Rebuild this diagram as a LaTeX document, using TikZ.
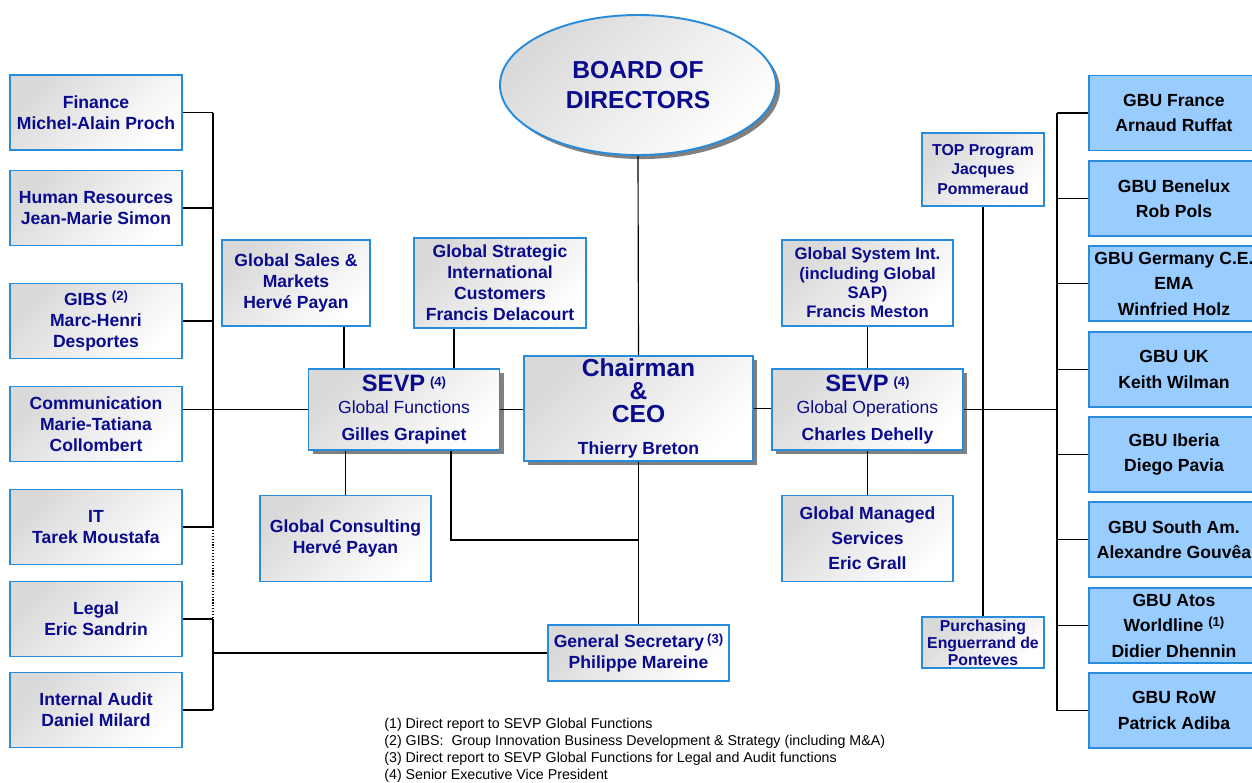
\documentclass[tikz,border=0pt]{standalone}
\usepackage{fontspec}
\setmainfont{Liberation Sans}
\usetikzlibrary{calc, positioning, shapes, shadows}
\definecolor{navy}{RGB}{10,10,140}
\definecolor{boxblue}{RGB}{40,140,220}
\definecolor{gbublue}{RGB}{153,204,255}
\def\unitpx{0.02cm}
\newcommand{\bigtxt}[1]{{\fontsize{14}{16}\selectfont #1}}
\newcommand{\sevptxt}[1]{{\fontsize{13.5}{14}\selectfont #1}}
\newcommand{\supnote}[1]{\raisebox{0.5ex}{\fontsize{7.5}{8}\selectfont #1}}
\tikzstyle{link}=[line width=0.65pt]
\tikzstyle{unit}=[draw=boxblue, line width=1.1pt, top color=black!15, bottom color=white, shading angle=45, text=navy, align=center, inner sep=0pt, font=\bfseries\fontsize{10}{11.9}\selectfont]
\tikzstyle{shadowed}=[drop shadow={shadow xshift=2.3pt, shadow yshift=-2.3pt, opacity=1, fill=black!50}]
\tikzstyle{left unit}=[unit, minimum width=172*\unitpx, minimum height=75*\unitpx]
\tikzstyle{side unit}=[unit, minimum width=171*\unitpx, minimum height=86*\unitpx]
\tikzstyle{sevp}=[unit, shadowed, minimum width=191*\unitpx, minimum height=81*\unitpx, font=\bfseries\fontsize{10}{12.5}\selectfont]
\tikzstyle{small unit}=[unit, minimum width=122*\unitpx, font=\bfseries\fontsize{9}{11}\selectfont]
\tikzstyle{gbu}=[draw=boxblue, line width=1.1pt, fill=gbublue, align=center, inner sep=0pt, minimum width=170*\unitpx, minimum height=75*\unitpx, font=\bfseries\fontsize{10}{14.5}\selectfont]
\tikzstyle{note}=[anchor=north west, align=left, inner sep=0pt, font=\fontsize{8.1}{9.6}\selectfont]

\begin{document}
\begin{tikzpicture}[x=\unitpx, y=-\unitpx]
\useasboundingbox (0,0) rectangle (1252,782);

% Board and chairman
\node[unit, shadowed, ellipse, minimum width=276*\unitpx, minimum height=140*\unitpx, font=\bfseries\fontsize{14}{17}\selectfont] (board) at (638,85) {BOARD OF\\DIRECTORS};
\node[unit, shadowed, minimum width=229*\unitpx, minimum height=105*\unitpx, font=\bfseries\fontsize{10}{13}\selectfont] (chair) at (638.5,408.5) {\bigtxt{Chairman}\\\bigtxt{\&}\\\bigtxt{CEO}\\[5pt]Thierry Breton};
\node[unit, minimum width=181*\unitpx, minimum height=56*\unitpx] (gensec) at (638.5,653) {General Secretary\,\supnote{(3)}\\Philippe Mareine};

% The two SEVP
\node[sevp] (sevpf) at (404,409.5) {\sevptxt{SEVP}\ \supnote{(4)}\\{\mdseries Global Functions}\\[3pt]Gilles Grapinet};
\node[sevp] (sevpo) at (867.5,409.5) {\sevptxt{SEVP}\ \supnote{(4)}\\{\mdseries Global Operations}\\[3pt]Charles Dehelly};

% Units around the SEVP Global Functions
\node[unit, minimum width=148*\unitpx, minimum height=86*\unitpx] (sales) at (296,283) {Global Sales \&\\Markets\\Hervé Payan};
\node[unit, minimum width=172*\unitpx, minimum height=90*\unitpx] (strat) at (500,283) {Global Strategic\\International\\Customers\\Francis Delacourt};
\node[side unit] (consult) at (345.5,538.5) {Global Consulting\\Hervé Payan};

% Units around the SEVP Global Operations
\node[side unit, font=\bfseries\fontsize{9.5}{11}\selectfont] (sysint) at (867.5,283) {Global System Int.\\(including Global\\SAP)\\Francis Meston};
\node[side unit, font=\bfseries\fontsize{10}{14.2}\selectfont] (managed) at (867.5,538.5) {Global Managed\\Services\\Eric Grall};
\node[small unit, minimum height=73*\unitpx] (top) at (983,169.5) {TOP Program\\Jacques\\Pommeraud};
\node[small unit, minimum height=51*\unitpx, font=\bfseries\fontsize{9}{9.6}\selectfont] (purch) at (983,642.5) {Purchasing\\Enguerrand de\\Ponteves};

% Global functions on the left
\foreach \name/\y/\txt in {fin/112.5/{Finance\\Michel-Alain Proch},
    hr/208/{Human Resources\\Jean-Marie Simon},
    gibs/321/{GIBS\ \supnote{(2)}\\Marc-Henri\\Desportes},
    comm/424/{Communication\\Marie-Tatiana\\Collombert},
    it/527/{IT\\Tarek Moustafa},
    legal/619/{Legal\\Eric Sandrin},
    audit/710/{Internal Audit\\Daniel Milard}}
    \node[left unit] (\name) at (96,\y) {\txt};

% GBU on the right
\foreach \i/\y/\txt in {1/113/{GBU France\\Arnaud Ruffat},
    2/198.5/{GBU Benelux\\Rob Pols},
    3/283.5/{GBU Germany C.E.\\EMA\\Winfried Holz},
    4/369.5/{GBU UK\\Keith Wilman},
    5/454.5/{GBU Iberia\\Diego Pavia},
    6/539.5/{GBU South Am.\\Alexandre Gouvêa},
    7/625.5/{GBU Atos\\Worldline\ \supnote{(1)}\\Didier Dhennin},
    8/710.5/{GBU RoW\\Patrick Adiba}}
    \node[gbu] (g-\i) at (1174,\y) {\txt};

% Central line
\draw[link] (board.south) -- (chair.north);
\draw[link] (chair.south) -- (gensec.north);
\draw[link] (sevpf.east) -- (sevpf.east -| chair.west);
\draw[link] (chair.east) -- (chair.east -| sevpo.west);
\coordinate (jn) at (638,540);
\draw[link] ($(sevpf.south)+(47,0)$) |- (jn);

% Links to the SEVP
\draw[link] ($(sales.south)+(48,0)$) coordinate (s1) -- (s1 |- sevpf.north);
\draw[link] ($(strat.south)+(-46,0)$) coordinate (s2) -- (s2 |- sevpf.north);
\draw[link] (consult.north) -- (consult.north |- sevpf.south);
\draw[link] (sysint.south) -- (sevpo.north);
\draw[link] (managed.north) -- (sevpo.south);
\draw[link] (top.south) -- (purch.north);

% Left bus
\coordinate (lbus) at (213,0);
\foreach \name in {fin,hr,gibs,it,legal,audit}
    \draw[link] (\name.east) -- (\name.east -| lbus);
\draw[link] (fin.east -| lbus) -- (it.east -| lbus);
\draw[link, densely dotted] (it.east -| lbus) -- (legal.east -| lbus);
\draw[link] (legal.east -| lbus) -- (audit.east -| lbus);
\draw[link] (gensec.west) -- (gensec.west -| lbus);
\draw[link] (sevpf.west) -- (sevpf.west -| comm.east);

% Right bus
\coordinate (rbus) at (1057,0);
\foreach \i in {1,...,8}
    \draw[link] (g-\i.west) -- (g-\i.west -| rbus);
\draw[link] (g-1.west -| rbus) -- (g-8.west -| rbus);
\draw[link] (sevpo.east) -- (sevpo.east -| rbus);

% Notes
\node[note] (notes) at (384,718) {(1) Direct report to SEVP Global Functions\\
(2) GIBS:\ \ Group Innovation Business Development \& Strategy (including M\&A)\\
(3) Direct report to SEVP Global Functions for Legal and Audit functions\\
(4) Senior Executive Vice President};
\end{tikzpicture}
\end{document}
